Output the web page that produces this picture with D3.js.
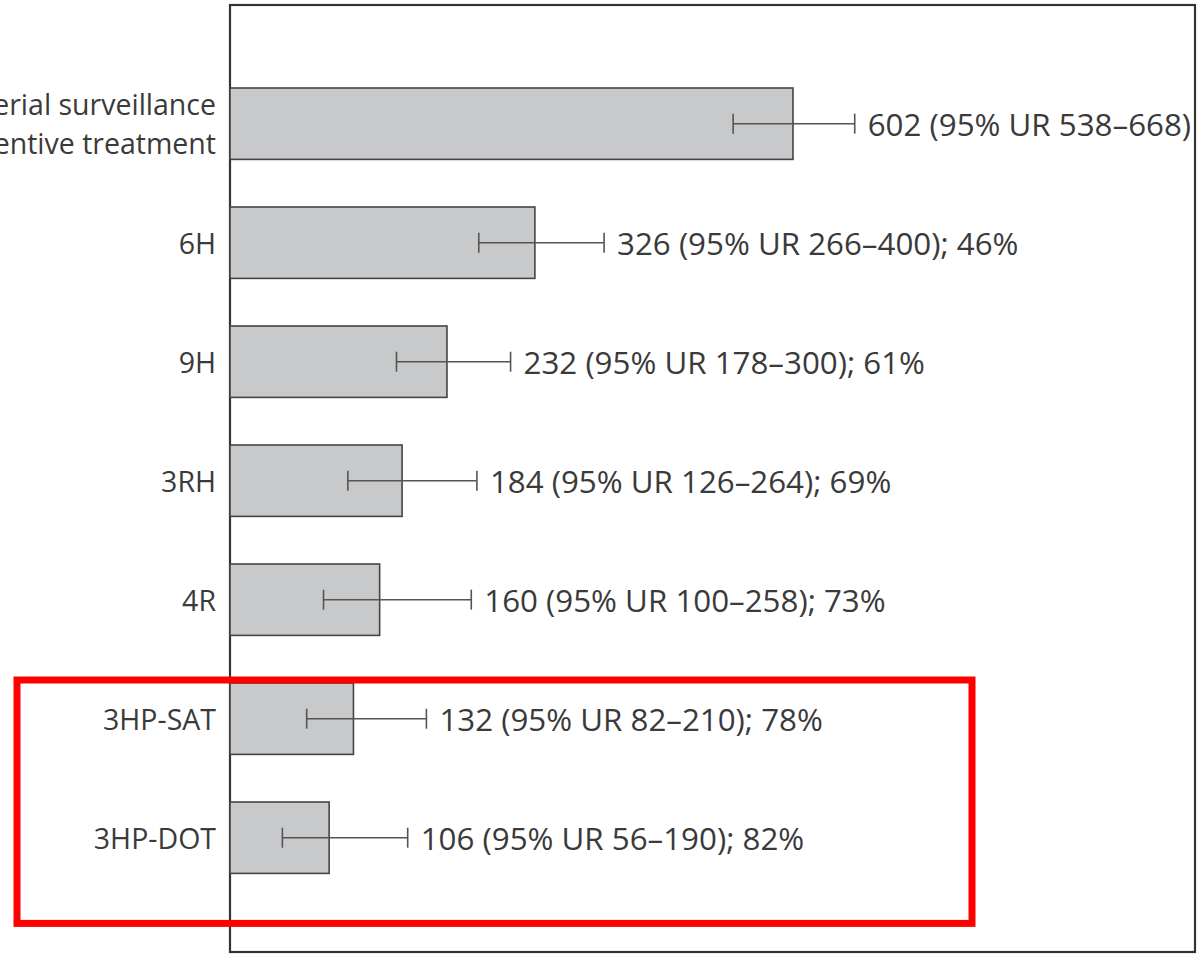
<!DOCTYPE html>
<html>
<head>
<meta charset="utf-8">
<script src="https://cdn.jsdelivr.net/npm/d3@7"></script>
<style>
  html, body { margin: 0; padding: 0; background: #fff; }
  svg { display: block; }
  text { font-family: "Open Sans", sans-serif; fill: #3a3a3a; }
</style>
</head>
<body>
<svg id="chart" width="1204" height="954"></svg>
<script>
// Regimens (first entry is split over two lines)
const categories = ["Serial surveillance|no preventive treatment", "6H", "9H", "3RH", "4R", "3HP-SAT", "3HP-DOT"];
const estimates = [602, 326, 232, 184, 160, 132, 106];
const lowerUR = [538, 266, 178, 126, 100, 82, 56];
const upperUR = [668, 400, 300, 264, 258, 210, 190];
const reductionPct = [null, 46, 61, 69, 73, 78, 82];
const highlighted = ["3HP-SAT", "3HP-DOT"];

const svg = d3.select("#chart");

const x = d3.scaleLinear()
  .domain([0, d3.max(estimates)])
  .range([230, 793]);

const y = d3.scaleBand()
  .domain(categories)
  .range([52.3, 909.1])
  .paddingInner(0.4)
  .paddingOuter(0.3);

const rows = categories.map((c, i) => ({
  cat: c, est: estimates[i], lo: lowerUR[i], hi: upperUR[i], pct: reductionPct[i]
}));

// Plot frame
svg.append("rect")
  .attr("x", 230).attr("y", 5)
  .attr("width", 965).attr("height", 947)
  .attr("fill", "none")
  .attr("stroke", "#333")
  .attr("stroke-width", 2.2);

// Bars
svg.append("g").selectAll("rect")
  .data(rows)
  .join("rect")
  .attr("x", x(0))
  .attr("y", d => y(d.cat))
  .attr("width", d => x(d.est) - x(0))
  .attr("height", y.bandwidth())
  .attr("fill", "#c8c9cb")
  .attr("stroke", "#444")
  .attr("stroke-width", 1.6);

// Uncertainty ranges
const cap = 10;
const eb = svg.append("g").attr("stroke", "#555").attr("stroke-width", 1.6);
rows.forEach(d => {
  const cy = y(d.cat) + y.bandwidth() / 2;
  eb.append("line").attr("x1", x(d.lo)).attr("x2", x(d.hi)).attr("y1", cy).attr("y2", cy);
  eb.append("line").attr("x1", x(d.lo)).attr("x2", x(d.lo)).attr("y1", cy - cap).attr("y2", cy + cap);
  eb.append("line").attr("x1", x(d.hi)).attr("x2", x(d.hi)).attr("y1", cy - cap).attr("y2", cy + cap);
});

// Value labels
svg.append("g").selectAll("text")
  .data(rows)
  .join("text")
  .attr("x", d => x(d.hi) + 13)
  .attr("y", d => y(d.cat) + y.bandwidth() / 2)
  .attr("dy", "0.4em")
  .attr("font-size", 31.3)
  .text(d => `${d.est} (95% UR ${d.lo}–${d.hi})` + (d.pct != null ? `; ${d.pct}%` : ""));

// Category labels
const catG = svg.append("g");
rows.forEach(d => {
  const lines = d.cat.split("|");
  const cy = y(d.cat) + y.bandwidth() / 2;
  const lh = 39;
  lines.forEach((ln, j) => {
    catG.append("text")
      .attr("x", 216)
      .attr("y", cy + (j - (lines.length - 1) / 2) * lh)
      .attr("dy", "0.38em")
      .attr("text-anchor", "end")
      .attr("font-size", 28.5)
      .text(ln);
  });
});

// Highlight box around the 3HP regimens
const hTop = y(highlighted[0]);
const hBot = y(highlighted[highlighted.length - 1]) + y.bandwidth();
svg.append("rect")
  .attr("x", 17)
  .attr("y", hTop - 3)
  .attr("width", 955)
  .attr("height", (hBot - hTop) + 53)
  .attr("fill", "none")
  .attr("stroke", "#ff0000")
  .attr("stroke-width", 7);
</script>
</body>
</html>
